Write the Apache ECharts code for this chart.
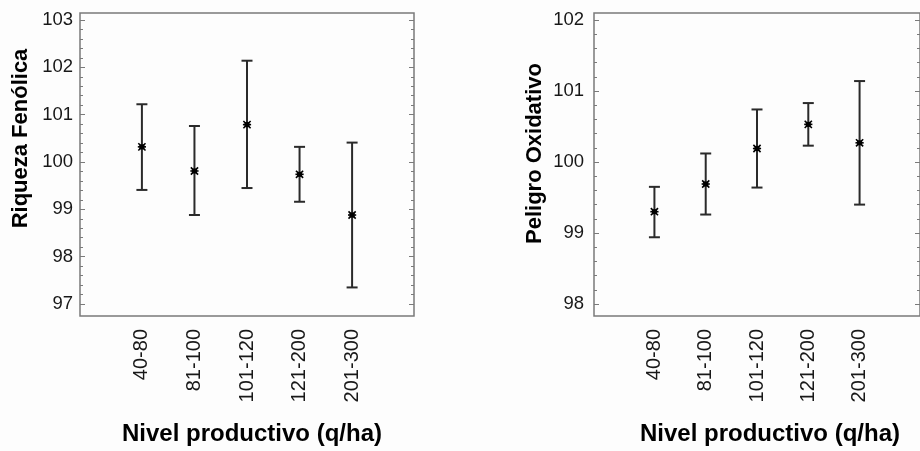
<!DOCTYPE html>
<html>
<head>
<meta charset="utf-8">
<script src="https://cdn.jsdelivr.net/npm/echarts@6/dist/echarts.min.js"></script>
<style>
  html, body { margin: 0; padding: 0; background: #fdfdfd; }
  #chart { width: 920px; height: 451px; }
</style>
</head>
<body>
<div id="chart"></div>
<script>
// Production level classes (q/ha)
const categories = ['40-80', '81-100', '101-120', '121-200', '201-300'];

// Riqueza Fenólica: mean and interval limits per class
const phenolMean = [100.32, 99.81, 100.79, 99.74, 98.88];
const phenolLow  = [99.41, 98.88, 99.45, 99.16, 97.35];
const phenolHigh = [101.22, 100.76, 102.14, 100.32, 100.41];

// Peligro Oxidativo: mean and interval limits per class
const oxidMean = [99.30, 99.69, 100.19, 100.53, 100.27];
const oxidLow  = [98.94, 99.26, 99.64, 100.23, 99.40];
const oxidHigh = [99.65, 100.12, 100.74, 100.83, 101.14];

// Value axis ranges (first and last labelled tick)
const phenolRange = [97, 103];
const oxidRange = [98, 102];

const FONT = '"Liberation Sans", Arial, sans-serif';
const AXIS_GRAY = '#7a7a7a';
const INK = '#181818';

function rows(mean, low, high) {
  return mean.map((m, i) => [i + 1, m, low[i], high[i]]);
}

// Error bar with caps plus an asterisk at the mean
function renderBar(params, api) {
  const x = api.value(0);
  const pm = api.coord([x, api.value(1)]);
  const pl = api.coord([x, api.value(2)]);
  const ph = api.coord([x, api.value(3)]);
  const cap = 5.5;
  const s = 3.6;
  const barStyle = { stroke: '#2a2a2a', lineWidth: 2 };
  const starStyle = { stroke: '#000', lineWidth: 1.6 };
  return {
    type: 'group',
    children: [
      { type: 'line', shape: { x1: pl[0], y1: pl[1], x2: ph[0], y2: ph[1] }, style: barStyle },
      { type: 'line', shape: { x1: ph[0] - cap, y1: ph[1], x2: ph[0] + cap, y2: ph[1] }, style: barStyle },
      { type: 'line', shape: { x1: pl[0] - cap, y1: pl[1], x2: pl[0] + cap, y2: pl[1] }, style: barStyle },
      { type: 'rect', shape: { x: pm[0] - 2.5, y: pm[1] - 2.5, width: 5, height: 5 }, style: { fill: '#000' } },
      { type: 'line', shape: { x1: pm[0] - s, y1: pm[1] - s, x2: pm[0] + s, y2: pm[1] + s }, style: starStyle },
      { type: 'line', shape: { x1: pm[0] - s, y1: pm[1] + s, x2: pm[0] + s, y2: pm[1] - s }, style: starStyle },
      { type: 'line', shape: { x1: pm[0] - s - 0.5, y1: pm[1], x2: pm[0] + s + 0.5, y2: pm[1] }, style: starStyle }
    ]
  };
}

const xIdx = categories.map((c, i) => i + 1);

function xAxisFor(gridIndex, namePad) {
  return {
    type: 'value', gridIndex, min: -0.178, max: 6.178, position: 'bottom',
    splitLine: { show: false },
    axisLine: { show: false, onZero: false },
    axisTick: { show: false },
    axisLabel: {
      customValues: xIdx, rotate: 90, margin: 25,
      fontFamily: FONT, fontSize: 20, color: INK,
      formatter: v => categories[Math.round(v) - 1] || ''
    },
    name: 'Nivel productivo (q/ha)',
    nameLocation: 'middle', nameGap: 118,
    nameTextStyle: { fontFamily: FONT, fontSize: 24, fontWeight: 'bold', color: '#000', padding: namePad }
  };
}

function yAxesFor(gridIndex, range, name, nameGap, namePad, labelMargin) {
  const common = {
    type: 'value', gridIndex, min: range[0], max: range[1], interval: 1,
    splitLine: { show: false },
    axisLine: { show: false, onZero: false },
    axisTick: { show: true, inside: true, length: 5, lineStyle: { color: AXIS_GRAY } },
    minorTick: { show: true, splitNumber: 5, length: 3, lineStyle: { color: AXIS_GRAY } },
    minorSplitLine: { show: false }
  };
  return [
    Object.assign({}, common, {
      position: 'left',
      axisLabel: { margin: labelMargin, fontFamily: FONT, fontSize: 18.5, color: INK },
      name, nameLocation: 'middle', nameGap,
      nameTextStyle: { fontFamily: FONT, fontSize: 22, fontWeight: 'bold', color: '#000', padding: namePad }
    }),
    Object.assign({}, common, {
      position: 'right',
      axisLabel: { show: false }
    })
  ];
}

// Outer frame of each panel (slightly larger than the tick range)
const frame = { show: true, borderColor: AXIS_GRAY, borderWidth: 1.5, backgroundColor: 'transparent' };

const chart = echarts.init(document.getElementById('chart'), null, { renderer: 'canvas' });

chart.setOption({
  backgroundColor: '#fdfdfd',
  animation: false,
  grid: [
    { left: 80, top: 20, width: 334, height: 287 },
    { left: 594, top: 20, width: 334, height: 286.7 },
    Object.assign({ left: 80, top: 13, width: 334, height: 303 }, frame),
    Object.assign({ left: 594, top: 13, width: 334, height: 303 }, frame)
  ],
  xAxis: [
    xAxisFor(0, [0, 0, 0, 10]),
    xAxisFor(1, [0, 0, 0, 26])
  ],
  yAxis: [].concat(
    yAxesFor(0, phenolRange, 'Riqueza Fenólica', 48, [0, 0, 0, 47], 7),
    yAxesFor(1, oxidRange, 'Peligro Oxidativo', 48, [0, 0, 0, 17], 10)
  ),
  series: [
    {
      type: 'custom', xAxisIndex: 0, yAxisIndex: 0,
      data: rows(phenolMean, phenolLow, phenolHigh),
      renderItem: renderBar, clip: false
    },
    {
      type: 'custom', xAxisIndex: 1, yAxisIndex: 2,
      data: rows(oxidMean, oxidLow, oxidHigh),
      renderItem: renderBar, clip: false
    }
  ]
});
</script>
</body>
</html>
